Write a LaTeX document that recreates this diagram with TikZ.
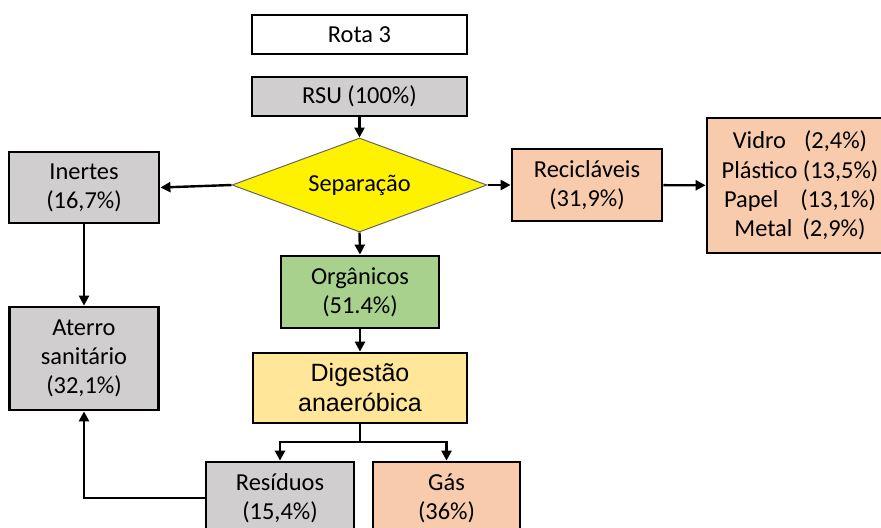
\documentclass[tikz,border=0pt]{standalone}
\usepackage{fontspec}
\setmainfont{Carlito}
\newfontfamily\arialfont{Liberation Sans}
\usetikzlibrary{shapes.geometric,arrows.meta}

\definecolor{cinza}{HTML}{D0CECE}
\definecolor{salmao}{HTML}{F8CBAD}
\definecolor{verde}{HTML}{A9D18E}
\definecolor{creme}{HTML}{FFE699}

\begin{document}
\begin{tikzpicture}[x=0.5pt,y=-0.5pt,
  caixa/.style={draw=black,line width=1.4pt,align=center,inner sep=0pt,font=\fontsize{12.2}{14.6}\selectfont},
  seta/.style={line width=1.2pt,-{Triangle[length=5pt,width=5pt]}},
  linha/.style={line width=1.2pt}]

\useasboundingbox (0,0) rectangle (881,527);

\node[caixa,fill=white,minimum width=107.5pt,minimum height=19.5pt] (rota) at (359.5,34.5) {Rota 3};
\node[caixa,fill=cinza,minimum width=107.5pt,minimum height=19.5pt] (rsu) at (359.5,96.5) {RSU (100\%)};

\node[diamond,draw=black!60,line width=0.5pt,fill=yellow,inner sep=0pt,aspect=2.7,
  minimum width=127.5pt,minimum height=47pt,font=\fontsize{12.2}{14.6}\selectfont] (sep) at (359.5,185) {Separação};

\node[caixa,fill=cinza,minimum width=75pt,minimum height=35.5pt] (inertes) at (84,187.5) {Inertes\\(16,7\%)};
\node[caixa,fill=cinza,minimum width=74.5pt,minimum height=51.5pt] (aterro) at (84,358.5) {Aterro\\sanitário\\(32,1\%)};

\node[caixa,fill=salmao,minimum width=75pt,minimum height=36pt] (recicl) at (587,185) {Recicláveis\\(31,9\%)};
\node[caixa,fill=salmao,minimum width=93pt,minimum height=67.5pt] (lista) at (800,185.5)
  {Vidro\hspace{9pt}(2,4\%)\\Plástico (13,5\%)\\Papel\hspace{11pt}(13,1\%)\\Metal\hspace{5pt}(2,9\%)};

\node[caixa,fill=verde,minimum width=79pt,minimum height=36pt] (org) at (360,292) {Orgânicos\\(51.4\%)};
\node[caixa,fill=creme,minimum width=107pt,minimum height=35pt,font=\arialfont\fontsize{12.5}{15}\selectfont] (dig) at (360,388) {Digestão\\anaeróbica};

\node[caixa,fill=cinza,minimum width=74pt,minimum height=36pt] (res) at (280,498) {Resíduos\\(15,4\%)};
\node[caixa,fill=salmao,minimum width=73.5pt,minimum height=36pt] (gas) at (446.5,498) {Gás\\(36\%)};

\coordinate (divide) at (360,442);

\draw[seta] (rsu) -- (sep);
\draw[seta] (sep.west) -- (inertes.east);
\draw[seta] (sep.east) -- (recicl.west);
\draw[seta] (recicl) -- (lista);
\draw[seta] (sep.south) -- (org.north);
\draw[seta] (org) -- (dig);
\draw[seta] (inertes) -- (aterro);
\draw[linha] (dig.south) -- (divide);
\draw[seta] (divide) -| (res.north);
\draw[seta] (divide) -| (gas.north);
\draw[seta] (res.west) -| (aterro.south);

\end{tikzpicture}
\end{document}
